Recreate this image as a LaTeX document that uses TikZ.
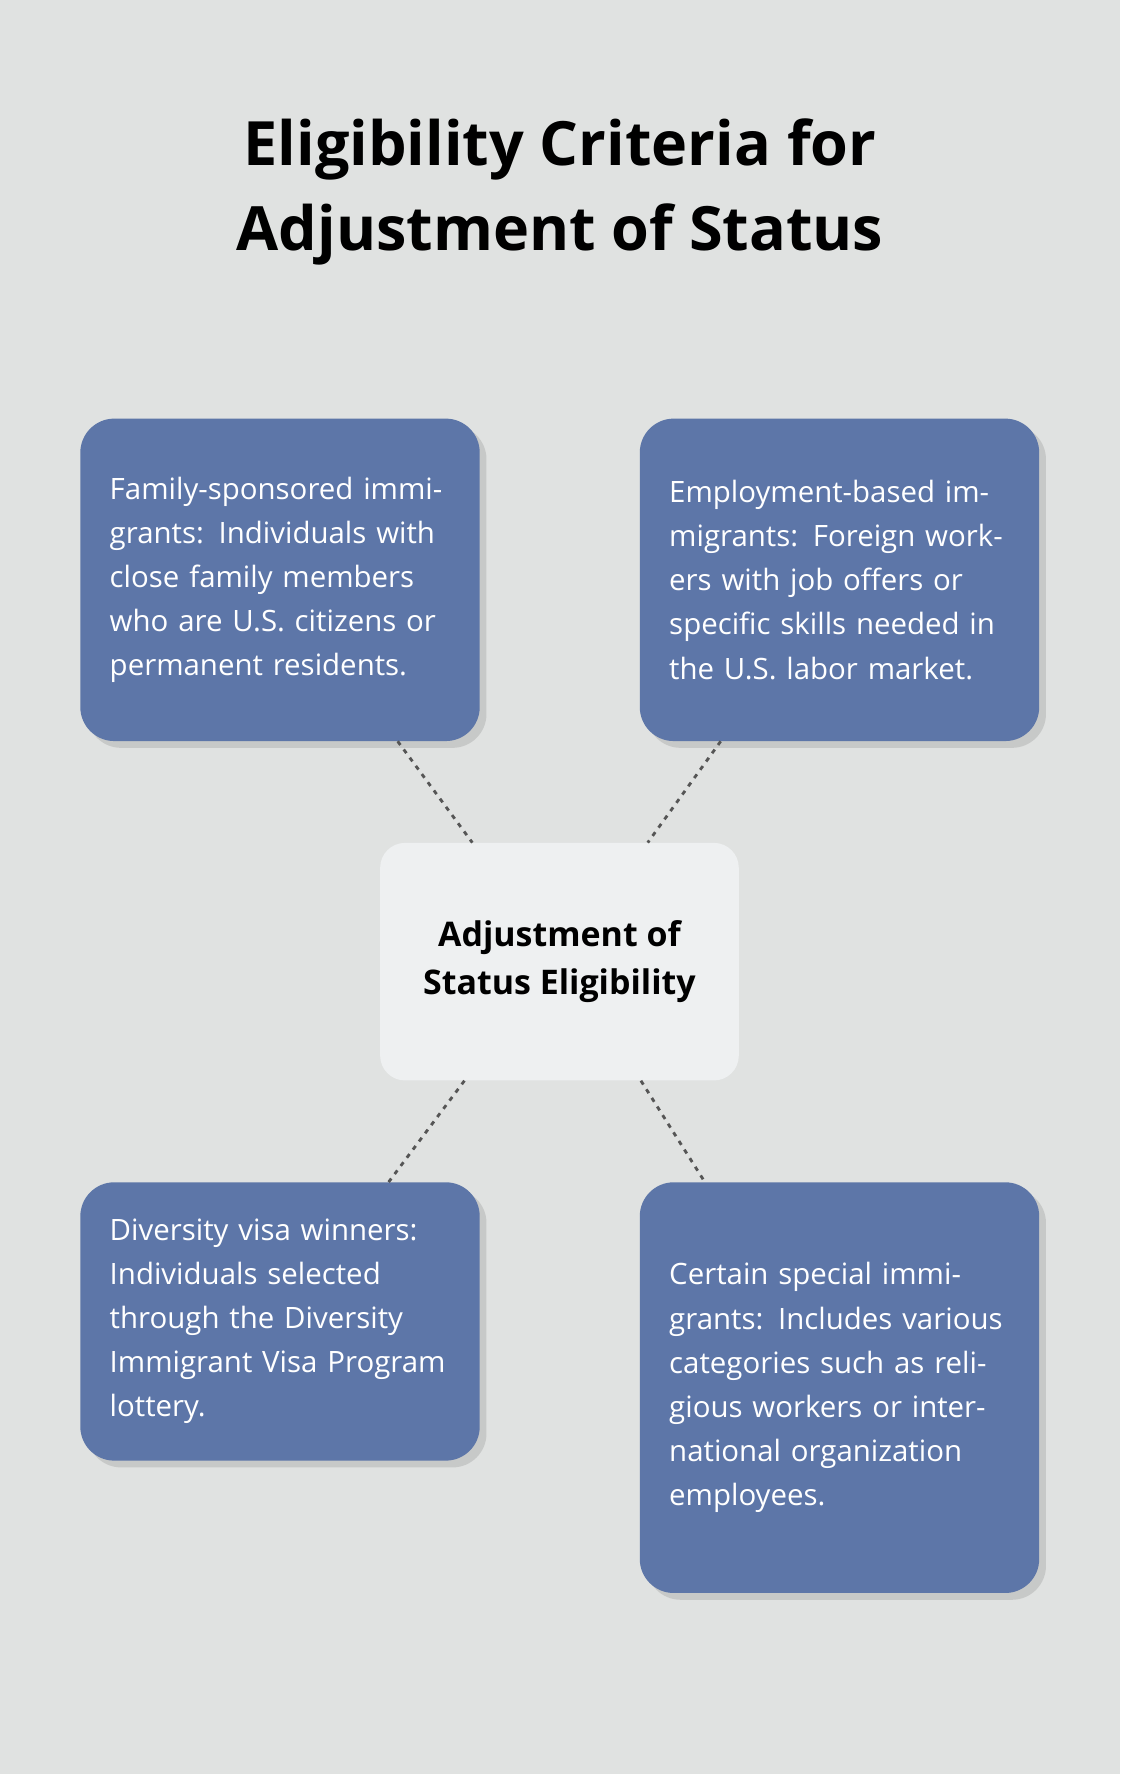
\documentclass[tikz,border=0pt]{standalone}
\usepackage{fontspec}
\setmainfont{Open Sans}
\usetikzlibrary{shadows}
\definecolor{bgGrey}{HTML}{E0E2E1}
\definecolor{boxBlue}{HTML}{5D76A8}
\definecolor{hubWhite}{HTML}{EEF0F1}
\definecolor{linkGrey}{HTML}{555555}
\tikzset{
  crit/.style={rectangle, rounded corners=30pt, fill=boxBlue, text=white,
    minimum width=353pt, text width=301pt, align=left, inner xsep=26pt,
    font=\fontsize{26}{39}\selectfont,
    drop shadow={shadow xshift=6pt, shadow yshift=-6pt, opacity=0.25}},
  hub/.style={rectangle, rounded corners=22pt, fill=hubWhite,
    minimum width=317pt, minimum height=210pt, align=center,
    font=\bfseries\fontsize{30}{42}\selectfont},
  link/.style={draw=linkGrey, line width=2.5pt, dash pattern=on 4pt off 5pt}
}
\begin{document}
\begin{tikzpicture}[x=1pt,y=-1pt]

  % background
  \fill[bgGrey] (0,0) rectangle (990,1568);

  % title
  \node[align=center, font=\bfseries\fontsize{54}{75}\selectfont] (title) at (495,170)
    {Eligibility Criteria for\\Adjustment of Status};

  % hub
  \node[hub] (hub) at (494.5,850) {Adjustment of\\Status Eligibility};

  % criteria
  \node[crit, minimum height=285pt] (family) at (247.5,512.5)
    {Family-sponsored immigrants: Individuals with close family members who are U.S. citizens or permanent residents.};
  \node[crit, minimum height=285pt] (employ) at (742,512.5)
    {Employment-based immigrants: Foreign workers with job offers or specific skills needed in the U.S. labor market.};
  \node[crit, minimum height=246pt] (diversity) at (247.5,1168)
    {Diversity visa winners: Individuals selected through the Diversity Immigrant Visa Program lottery.};
  \node[crit, minimum height=363pt] (special) at (742,1226.5)
    {Certain special immigrants: Includes various categories such as religious workers or international organization employees.};

  % links
  \draw[link] ([xshift=104pt]family.south) -- ([xshift=-77pt]hub.north);
  \draw[link] ([xshift=-105pt]employ.south) -- ([xshift=78pt]hub.north);
  \draw[link] ([xshift=-84pt]hub.south) -- ([xshift=96pt]diversity.north);
  \draw[link] ([xshift=72pt]hub.south) -- ([xshift=-119pt]special.north);

\end{tikzpicture}
\end{document}
